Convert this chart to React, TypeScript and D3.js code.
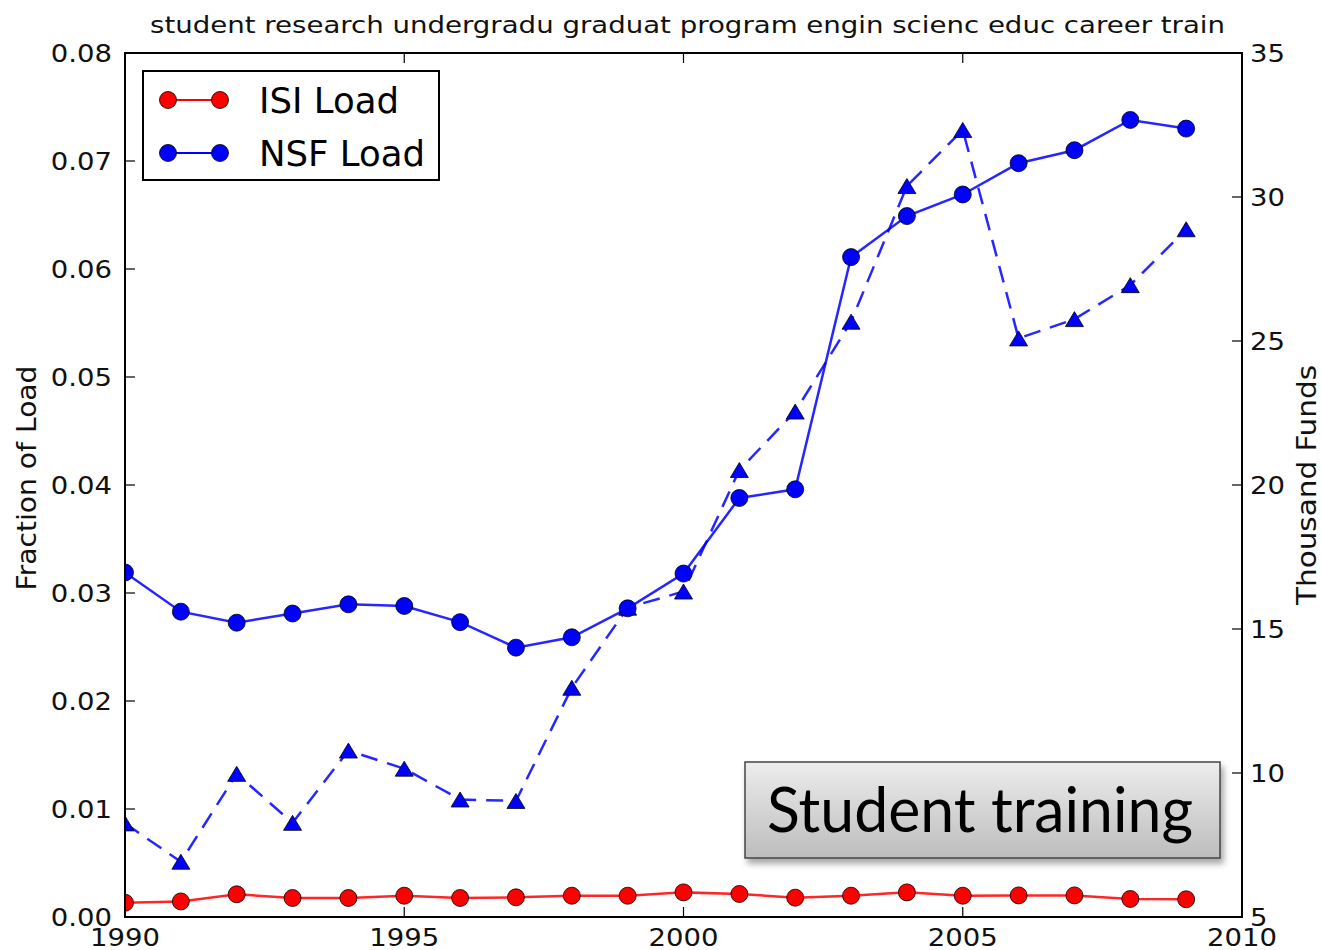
import React from "react";
import * as d3 from "d3";

/* ---------- data ---------- */
const years = [1990, 1991, 1992, 1993, 1994, 1995, 1996, 1997, 1998, 1999,
  2000, 2001, 2002, 2003, 2004, 2005, 2006, 2007, 2008, 2009];

const isiLoad = [0.00132, 0.00144, 0.0021, 0.00176, 0.00176, 0.00197, 0.00176, 0.00182, 0.00197, 0.00197,
  0.00228, 0.00213, 0.00179, 0.00197, 0.00228, 0.00197, 0.0020, 0.0020, 0.00167, 0.00164];

const nsfLoad = [0.0319, 0.02827, 0.02725, 0.0281, 0.02895, 0.0288, 0.0273, 0.02494, 0.0259, 0.02858,
  0.0318, 0.0388, 0.0396, 0.0611, 0.0649, 0.0669, 0.0698, 0.0710, 0.0738, 0.0730];

const nsfFunds = [8.25, 6.92, 9.97, 8.27, 10.78, 10.15, 9.08, 9.03, 12.96, 15.74,
  16.3, 20.52, 22.55, 25.67, 30.38, 32.33, 25.09, 25.76, 26.94, 28.88];

const xTicks = [1990, 1995, 2000, 2005, 2010];
const leftTicks = [0, 0.01, 0.02, 0.03, 0.04, 0.05, 0.06, 0.07, 0.08];
const rightTicks = [5, 10, 15, 20, 25, 30, 35];

const titleText = "student research undergradu graduat program engin scienc educ career train";
const legendItems = [
  { label: "ISI Load", color: "#ff0000" },
  { label: "NSF Load", color: "#0000ff" },
];

const font = "'DejaVu Sans', sans-serif";

// tick labels in the original are a little wider than plain DejaVu, so stretch them along the baseline
function Lbl({ x, y, anchor, children }: { x: number; y: number; anchor: string; children: React.ReactNode }) {
  return (
    <text transform={`translate(${x},${y}) scale(1.1,1)`} textAnchor={anchor} dy="0.36em"
      fontFamily={font} fontSize={25} fill="#111">
      {children}
    </text>
  );
}

export default function App() {
  const W = 1321, H = 950;
  const m = { left: 125, right: 1242, top: 53, bottom: 917 };

  const x = d3.scaleLinear().domain([1990, 2010]).range([m.left, m.right]);
  const yL = d3.scaleLinear().domain([0, 0.08]).range([m.bottom, m.top]);
  const yR = d3.scaleLinear().domain([5, 35]).range([m.bottom, m.top]);

  const lineL = d3.line<number>().x((_, i) => x(years[i])).y(d => yL(d));
  const lineR = d3.line<number>().x((_, i) => x(years[i])).y(d => yR(d));

  const tri = "M0,-7.5 L9,7.5 L-9,7.5 Z";
  const tick = 10;

  return (
    <div style={{ position: "absolute", left: 0, top: 0 }}>
      <svg width={W} height={H} style={{ display: "block", background: "#fff" }}>
        <defs>
          <clipPath id="plot">
            <rect x={m.left} y={m.top} width={m.right - m.left} height={m.bottom - m.top} />
          </clipPath>
          <linearGradient id="boxGrad" x1="0" y1="0" x2="0" y2="1">
            <stop offset="0" stopColor="#ededed" />
            <stop offset="1" stopColor="#bdbdbd" />
          </linearGradient>
          <filter id="shadow" x="-10%" y="-20%" width="130%" height="160%">
            <feDropShadow dx="3" dy="5" stdDeviation="3" floodColor="#000" floodOpacity="0.35" />
          </filter>
        </defs>

        {/* title */}
        <text x={150} y={33} fontFamily={font} fontSize={23} fill="#111"
          textLength={1075} lengthAdjust="spacingAndGlyphs">
          {titleText}
        </text>

        {/* series */}
        <g clipPath="url(#plot)">
          <path d={lineR(nsfFunds) || ""} fill="none" stroke="#0000ff" strokeWidth={2.5} strokeDasharray="17,10" opacity={0.85} />
          <path d={lineL(nsfLoad) || ""} fill="none" stroke="#0000ff" strokeWidth={2.5} opacity={0.85} />
          <path d={lineL(isiLoad) || ""} fill="none" stroke="#ff0000" strokeWidth={2.5} opacity={0.85} />
          {nsfFunds.map((d, i) => (
            <path key={"t" + i} d={tri} transform={`translate(${x(years[i])},${yR(d)})`}
              fill="#0000ff" stroke="#000" strokeWidth={0.8} />
          ))}
          {nsfLoad.map((d, i) => (
            <circle key={"n" + i} cx={x(years[i])} cy={yL(d)} r={8.5} fill="#0000ff" stroke="#000" strokeWidth={0.8} />
          ))}
          {isiLoad.map((d, i) => (
            <circle key={"r" + i} cx={x(years[i])} cy={yL(d)} r={8.5} fill="#ff0000" stroke="#000" strokeWidth={0.8} />
          ))}
        </g>

        {/* frame */}
        <rect x={m.left} y={m.top} width={m.right - m.left} height={m.bottom - m.top} fill="none" stroke="#000" strokeWidth={2} />

        {/* x ticks */}
        {xTicks.map(t => (
          <g key={"x" + t}>
            <line x1={x(t)} x2={x(t)} y1={m.bottom} y2={m.bottom - tick} stroke="#000" strokeWidth={1.2} />
            <line x1={x(t)} x2={x(t)} y1={m.top} y2={m.top + tick} stroke="#000" strokeWidth={1.2} />
            <Lbl x={x(t)} y={937} anchor="middle">{t}</Lbl>
          </g>
        ))}

        {/* left ticks */}
        {leftTicks.map(t => (
          <g key={"l" + t}>
            <line x1={m.left} x2={m.left + tick} y1={yL(t)} y2={yL(t)} stroke="#000" strokeWidth={1.2} />
            <Lbl x={112} y={yL(t)} anchor="end">{t.toFixed(2)}</Lbl>
          </g>
        ))}

        {/* right ticks */}
        {rightTicks.map(t => (
          <g key={"r" + t}>
            <line x1={m.right} x2={m.right - tick} y1={yR(t)} y2={yR(t)} stroke="#000" strokeWidth={1.2} />
            <Lbl x={1250} y={yR(t)} anchor="start">{t}</Lbl>
          </g>
        ))}

        {/* axis labels */}
        <text transform={`translate(36,478) rotate(-90)`} textAnchor="middle"
          fontFamily={font} fontSize={26} fill="#111"
          textLength={225} lengthAdjust="spacingAndGlyphs">Fraction of Load</text>
        <text transform={`translate(1316,${(m.top + m.bottom) / 2}) rotate(-90)`} textAnchor="middle"
          fontFamily="'DejaVu Sans Condensed', 'DejaVu Sans', sans-serif" fontSize={27} fill="#111"
          textLength={240} lengthAdjust="spacingAndGlyphs">Thousand Funds</text>

        {/* legend */}
        <g>
          <rect x={143} y={71} width={296} height={109} fill="#fff" stroke="#000" strokeWidth={2} />
          {legendItems.map((it, i) => {
            const ly = 100 + i * 53;
            return (
              <g key={it.label}>
                <line x1={168} x2={220} y1={ly} y2={ly} stroke={it.color} strokeWidth={2} />
                <circle cx={168} cy={ly} r={8.5} fill={it.color} stroke="#000" strokeWidth={0.8} />
                <circle cx={220} cy={ly} r={8.5} fill={it.color} stroke="#000" strokeWidth={0.8} />
                <text x={259} y={ly} dy="0.36em" fontFamily={font} fontSize={35.5} fill="#000">{it.label}</text>
              </g>
            );
          })}
        </g>

        {/* annotation box */}
        <g filter="url(#shadow)">
          <rect x={745} y={762} width={475} height={96} fill="url(#boxGrad)" stroke="#444" strokeWidth={1.5} />
        </g>
        <text x={767} y={832} fontFamily="Lato, 'Open Sans', sans-serif" fontSize={62} fill="#000"
          textLength={426} lengthAdjust="spacingAndGlyphs">Student training</text>
      </svg>
    </div>
  );
}
